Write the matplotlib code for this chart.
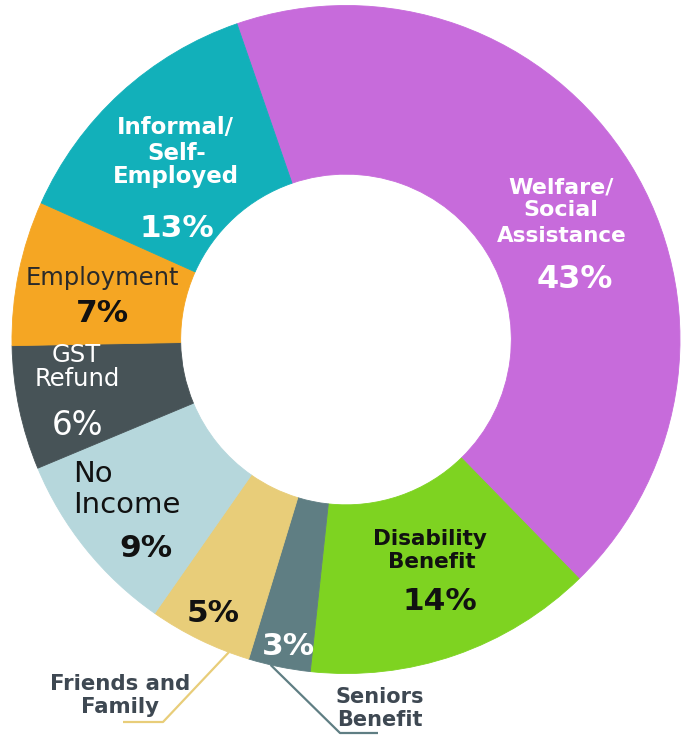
import numpy as np
import matplotlib
matplotlib.use("Agg")
import matplotlib.pyplot as plt

plt.rcParams['font.family'] = ['DejaVu Sans']

# ---- data ----
categories = ["Welfare/\nSocial\nAssistance", "Disability\nBenefit", "Seniors\nBenefit",
              "Friends and\nFamily", "No\nIncome", "GST\nRefund", "Employment",
              "Informal/\nSelf-\nEmployed"]
values = [43, 14, 3, 5, 9, 6, 7, 13]
pct_labels = ["43%", "14%", "3%", "5%", "9%", "6%", "7%", "13%"]
colors = ["#C76BDB", "#7ED321", "#5F7E83", "#E8CD79", "#B6D7DC", "#475357", "#F5A623", "#12B0BA"]

W, H = 682, 735
fig = plt.figure(figsize=(W / 100, H / 100), dpi=100)
ax = fig.add_axes([0, 0, 1, 1])

cx, cy, R = 346, 339.5, 334
wedges, _ = ax.pie(values, colors=colors, startangle=109.06, counterclock=False,
                   radius=R, center=(cx, H - cy),
                   wedgeprops=dict(width=R * 0.505, linewidth=0.6))
for w, c in zip(wedges, colors):
    w.set_edgecolor(c)
ax.set_xlim(0, W)
ax.set_ylim(0, H)
ax.set_aspect('equal')
ax.axis('off')


def t(x, y, s, size=15, color='white', weight='bold', ha='center'):
    ax.text(x, H - y, s, fontsize=size, color=color, fontweight=weight,
            ha=ha, va='baseline')


PS = 22.5   # percent size
slate = "#3E4852"

# Welfare
t(561, 193, "Welfare/", 16)
t(561, 216, "Social", 16)
t(562, 242, "Assistance", 15.5)
t(575, 288, pct_labels[0], 23)
# Disability
t(430, 545, "Disability", 15.5, color='#111111')
t(432, 568, "Benefit", 15.5, color='#111111')
t(440, 610, pct_labels[1], PS, color='#111111')
# Seniors
t(288, 655, pct_labels[2], PS)
t(380, 703, "Seniors", 15, color=slate)
t(380, 726, "Benefit", 15, color=slate)
# Friends
t(213, 622, pct_labels[3], PS, color='#111111')
t(120, 690, "Friends and", 15.3, color=slate)
t(120, 713, "Family", 15.3, color=slate)
# No income
t(73, 482, "No", 21, color='#111111', weight='normal', ha='left')
t(73, 513, "Income", 21, color='#111111', weight='normal', ha='left')
t(146, 557, pct_labels[4], PS, color='#111111')
# GST
t(76, 362, "GST", 17.5, weight='normal')
t(77, 386, "Refund", 17.5, weight='normal')
t(77, 435, pct_labels[5], 23.5, weight='normal')
# Employment
t(102, 285, "Employment", 17.5, color='#2A2A2A', weight='normal')
t(102, 322, pct_labels[6], PS, color='#111111')
# Informal
t(175, 134, "Informal/", 16.5)
t(177, 160, "Self-", 16.5)
t(176, 183, "Employed", 16.5)
t(177, 237, pct_labels[7], PS)


# leader lines computed from wedge geometry
def outer_point(w, frac):
    ang = np.deg2rad(w.theta1 + frac * (w.theta2 - w.theta1))
    return cx + R * np.cos(ang), (H - cy) + R * np.sin(ang)


fx, fy = outer_point(wedges[3], 0.8)
ax.plot([fx, 163, 123], [fy, H - 722, H - 722], color=colors[3], lw=1.6,
        solid_capstyle='butt')
sx, sy = outer_point(wedges[2], 0.36)
ax.plot([sx, 340, 378], [sy, H - 733, H - 733], color=colors[2], lw=1.6,
        solid_capstyle='butt')

fig.savefig("out.png", dpi=100)
